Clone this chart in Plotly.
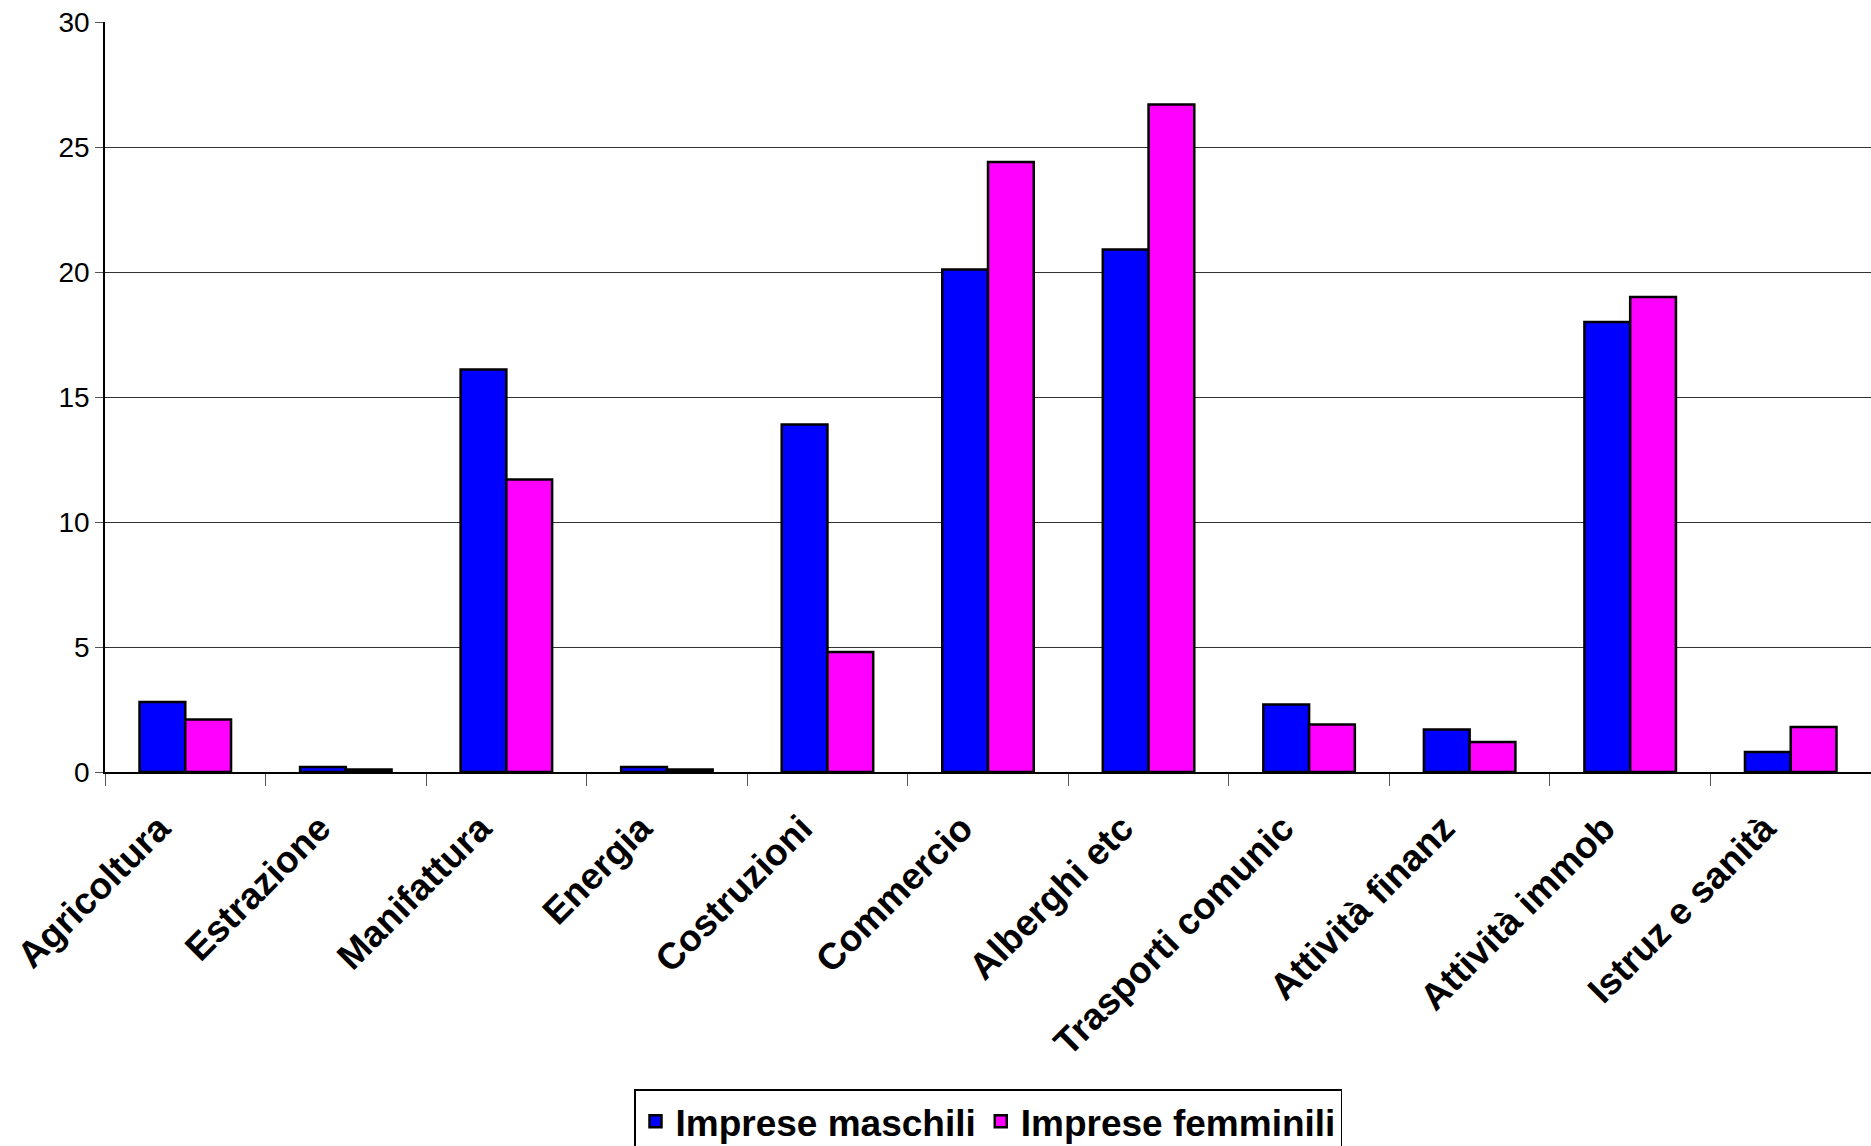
import plotly.graph_objects as go

categories = ["Agricoltura", "Estrazione", "Manifattura", "Energia", "Costruzioni",
              "Commercio", "Alberghi etc", "Trasporti comunic", "Attività finanz",
              "Attività immob", "Istruz e sanità"]
maschili = [2.8, 0.2, 16.1, 0.2, 13.9, 20.1, 20.9, 2.7, 1.7, 18.0, 0.8]
femminili = [2.1, 0.1, 11.7, 0.1, 4.8, 24.4, 26.7, 1.9, 1.2, 19.0, 1.8]
y_ticks = [0, 5, 10, 15, 20, 25, 30]

FONT = "Liberation Sans, Arial, sans-serif"

fig = go.Figure()
fig.add_trace(go.Bar(x=categories, y=maschili, name="<b>Imprese maschili</b>",
                     marker=dict(color="#0000FF", line=dict(color="black", width=2.5))))
fig.add_trace(go.Bar(x=categories, y=femminili, name="<b>Imprese femminili</b>",
                     marker=dict(color="#FF00FF", line=dict(color="black", width=2.5))))

fig.update_layout(
    width=1871, height=1146,
    margin=dict(l=105, r=0, t=22, b=374, autoexpand=False),
    paper_bgcolor="white", plot_bgcolor="white",
    barmode="group", bargap=0.43, bargroupgap=0,
    font=dict(family=FONT, color="black"),
    legend=dict(orientation="h", x=0.5, xanchor="center", y=-0.423, yanchor="top",
                bordercolor="black", borderwidth=1.5, bgcolor="white",
                font=dict(size=37, family=FONT, color="black"),
                itemwidth=30, tracegroupgap=0),
    showlegend=True,
)
fig.update_xaxes(
    type="category", showline=True, linecolor="black", linewidth=1.5,
    ticks="outside", tickson="boundaries", ticklen=12, tickcolor="#555555",
    tickangle=-45, tickfont=dict(size=37, family=FONT),
    ticklabelstandoff=18, ticklabelshift=-26, automargin=False,
    tickvals=categories, ticktext=["<b>%s</b>" % c for c in categories],
    showgrid=False,
)
fig.update_yaxes(
    range=[0, 30], tickvals=y_ticks, showline=True, linecolor="black", linewidth=1.5,
    ticks="outside", ticklen=8, tickcolor="#555555", automargin=False,
    tickfont=dict(size=28, family=FONT),
    showgrid=True, gridcolor="#333333", gridwidth=1.2, zeroline=False,
)

fig.write_html("out.html")
